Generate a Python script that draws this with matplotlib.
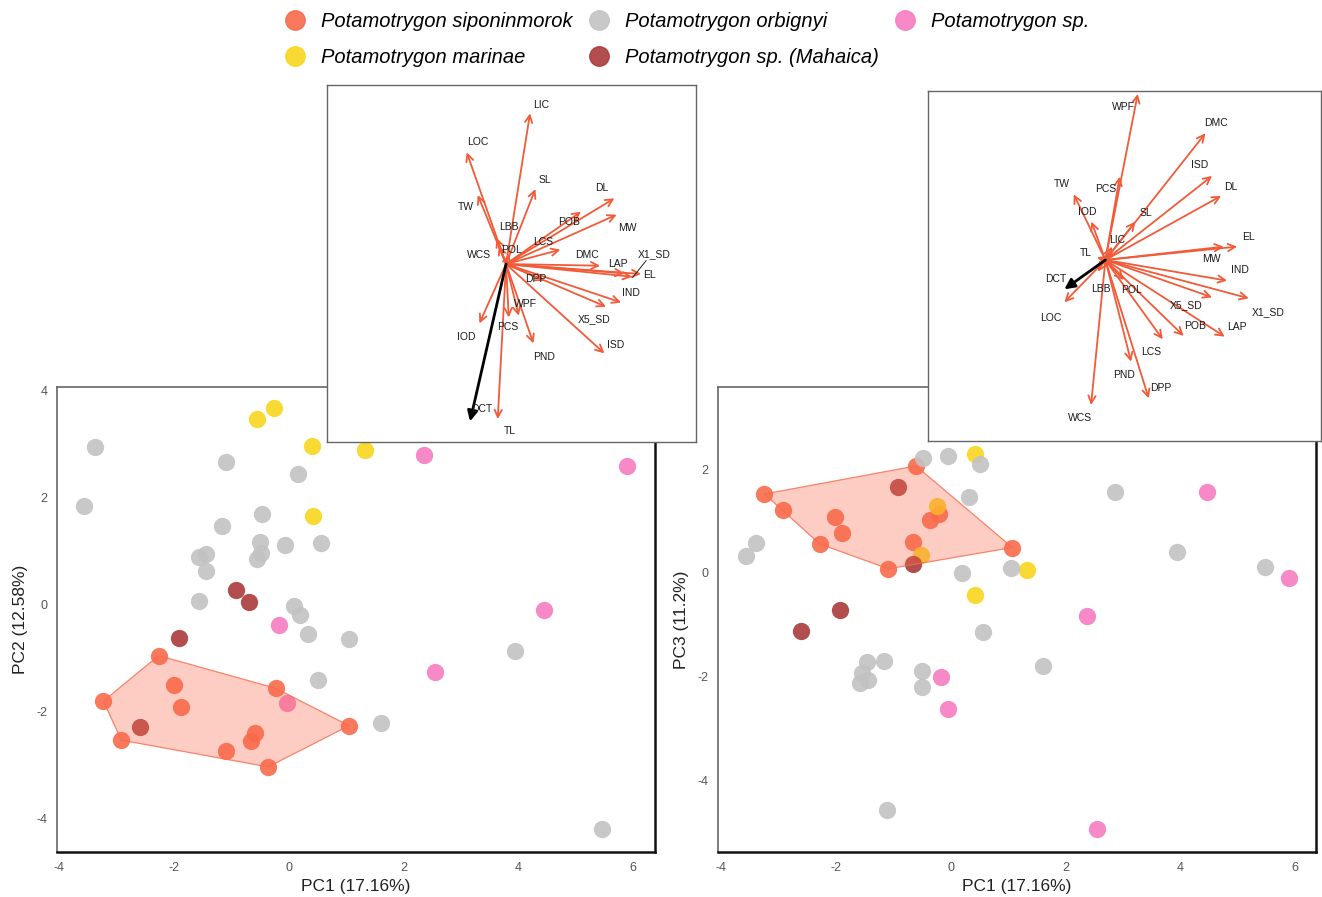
import numpy as np
import matplotlib.pyplot as plt
from matplotlib.lines import Line2D
from matplotlib.patches import Polygon

plt.rcParams['font.family'] = ['Liberation Sans', 'DejaVu Sans']
plt.rcParams['axes.unicode_minus'] = False

# especies y colores
species = ["Potamotrygon siponinmorok", "Potamotrygon marinae",
           "Potamotrygon orbignyi", "Potamotrygon sp. (Mahaica)",
           "Potamotrygon sp."]
colors = ["#F96A4B", "#F9D61E", "#C2C2C2", "#AA3B3B", "#F77CC0"]

# PC1 vs PC2 (panel izquierdo)
pc12_sip_x = [-2.27, -2.00, -0.23, -3.23, -1.88, 1.05, -2.92, -0.59, -0.66, -1.09, -0.36]
pc12_sip_y = [-0.95, -1.50, -1.56, -1.80, -1.91, -2.26, -2.53, -2.39, -2.55, -2.74, -3.03]
pc12_mar_x = [-0.55, -0.26, 0.41, 1.32, 0.42]
pc12_mar_y = [3.48, 3.67, 2.96, 2.90, 1.66]
pc12_orb_x = [-3.38, -3.57, -1.10, 0.16, -0.47, -1.17, -1.56, -1.45, -1.44, -0.50, -0.49, -0.55,
              -0.06, 0.56, -1.56, 0.09, 0.20, 0.33, 1.05, 3.95, 0.51, 1.61, 5.45]
pc12_orb_y = [2.94, 1.85, 2.67, 2.45, 1.70, 1.48, 0.90, 0.94, 0.64, 1.17, 0.97, 0.85,
              1.12, 1.15, 0.07, -0.03, -0.19, -0.54, -0.64, -0.87, -1.40, -2.21, -4.20]
pc12_mah_x = [-0.92, -0.69, -1.92, -2.60]
pc12_mah_y = [0.28, 0.05, -0.62, -2.28]
pc12_sp_x = [2.35, 5.90, -0.17, 4.44, 2.54, -0.04]
pc12_sp_y = [2.80, 2.59, -0.38, -0.10, -1.25, -1.84]

# PC1 vs PC3 (panel derecho)
pc13_sip_x = [-3.25, -2.92, -2.02, -1.90, -2.29, -1.09, -0.61, -0.20, -0.37, -0.66, 1.07]
pc13_sip_y = [1.52, 1.21, 1.07, 0.76, 0.56, 0.08, 2.06, 1.13, 1.02, 0.59, 0.49]
pc13_mar_x = [0.42, -0.25, -0.53, 0.42, 1.32]
pc13_mar_y = [2.29, 1.29, 0.35, -0.42, 0.06]
pc13_orb_x = [-0.48, -0.06, 0.51, 0.31, 0.19, 0.55, -3.40, -3.58, -1.47, -1.17, -0.51,
              1.04, 2.85, 3.94, 5.48, 1.61, -1.55, -1.44, -1.58, -0.51, -1.11]
pc13_orb_y = [2.21, 2.26, 2.09, 1.47, -0.01, -1.13, 0.57, 0.33, -1.72, -1.70, -1.88,
              0.09, 1.56, 0.40, 0.11, -1.79, -1.92, -2.06, -2.11, -2.19, -4.57]
pc13_mah_x = [-0.93, -0.67, -1.93, -2.61]
pc13_mah_y = [1.66, 0.17, -0.71, -1.11]
pc13_sp_x = [4.47, 5.89, 2.37, -0.18, -0.06, 2.54]
pc13_sp_y = [1.56, -0.10, -0.83, -2.01, -2.62, -4.92]

# biplot de cargas PC1/PC2
bi12_vars = ["LIC", "LOC", "SL", "DL", "TW", "POB", "MW", "LBB", "WCS", "POL", "LCS", "DMC", "LAP",
             "X1_SD", "EL", "DPP", "IND", "X5_SD", "WPF", "IOD", "PCS", "PND", "ISD", "TL", "DCT"]
bi12_x = [0.72, -1.18, 0.88, 3.25, -0.85, 2.25, 3.32, -0.28, -0.22, 0.10, 1.63, 2.82, 3.55,
          3.78, 4.05, 1.15, 3.45, 3.00, 0.38, -0.80, 0.08, 0.82, 2.95, -0.25, -1.08]
bi12_y = [4.52, 3.35, 2.25, 1.97, 2.07, 1.57, 1.48, 0.78, 0.55, 0.30, 0.43, -0.05, -0.28,
          -0.38, -0.30, -0.50, -1.15, -1.28, -1.55, -1.78, -1.60, -2.38, -2.68, -4.65, -4.72]
bi12_lx = [1.05, -0.85, 1.17, 2.88, -1.22, 1.88, 3.65, 0.08, -0.82, 0.16, 1.12, 2.43, 3.35,
           4.45, 4.30, 0.88, 3.75, 2.65, 0.58, -1.18, 0.05, 1.15, 3.30, 0.12, -0.72]
bi12_ly = [4.78, 3.67, 2.53, 2.27, 1.70, 1.25, 1.07, 1.12, 0.27, 0.43, 0.66, 0.26, 0.00,
           0.29, -0.32, -0.45, -0.88, -1.65, -1.20, -2.18, -1.90, -2.78, -2.42, -5.02, -4.35]

# biplot de cargas PC1/PC3
bi13_vars = ["WPF", "DMC", "ISD", "DL", "TW", "PCS", "IOD", "SL", "LIC", "EL", "MW", "TL", "IND",
             "DCT", "LBB", "POL", "LOC", "X5_SD", "X1_SD", "POB", "LAP", "LCS", "PND", "DPP", "WCS"]
bi13_x = [0.97, 3.00, 3.20, 3.47, -0.95, 0.43, -0.42, 0.90, 0.20, 3.95, 3.55, -0.25, 3.65,
          -1.23, -0.23, 0.55, -1.23, 3.20, 4.30, 2.35, 3.58, 1.72, 0.77, 1.30, -0.43]
bi13_y = [4.98, 3.80, 2.52, 1.92, 1.97, 2.50, 1.15, 1.15, 0.40, 0.40, 0.40, 0.08, -0.62,
          -0.88, -0.35, -0.60, -1.27, -1.12, -1.15, -2.28, -2.30, -2.38, -3.05, -4.15, -4.35]
bi13_lx = [0.55, 3.33, 2.83, 3.75, -1.32, 0.02, -0.53, 1.22, 0.35, 4.28, 3.17, -0.60, 4.05,
           -1.50, -0.15, 0.79, -1.63, 2.43, 4.87, 2.68, 3.95, 1.37, 0.55, 1.65, -0.75]
bi13_ly = [4.60, 4.10, 2.85, 2.18, 2.27, 2.13, 1.45, 1.42, 0.60, 0.70, 0.02, 0.20, -0.30,
           -0.57, -0.88, -0.90, -1.73, -1.35, -1.55, -1.98, -2.00, -2.77, -3.45, -3.85, -4.75]


def convex_hull(xs, ys):
    pts = sorted(set(zip(xs, ys)))

    def cross(o, a, b):
        return (a[0] - o[0]) * (b[1] - o[1]) - (a[1] - o[1]) * (b[0] - o[0])

    lower, upper = [], []
    for p in pts:
        while len(lower) >= 2 and cross(lower[-2], lower[-1], p) <= 0:
            lower.pop()
        lower.append(p)
    for p in reversed(pts):
        while len(upper) >= 2 and cross(upper[-2], upper[-1], p) <= 0:
            upper.pop()
        upper.append(p)
    return lower[:-1] + upper[:-1]


def score_panel(ax, groups, ylabel, xlim, ylim, yticks):
    for (gx, gy), c in zip(groups, colors):
        ax.scatter(gx, gy, s=155, color=c, alpha=0.9, linewidths=0, zorder=3)
    hull = convex_hull(*groups[0])
    ax.add_patch(Polygon(hull, closed=True, facecolor=colors[0], alpha=0.33,
                         edgecolor='none', zorder=4))
    ax.add_patch(Polygon(hull, closed=True, facecolor='none', edgecolor=colors[0],
                         lw=0.9, alpha=0.8, zorder=4))
    ax.set_xlim(*xlim)
    ax.set_ylim(*ylim)
    ax.set_xticks([-4, -2, 0, 2, 4, 6])
    ax.set_yticks(yticks)
    ax.tick_params(length=0, labelsize=9, labelcolor='#555555', pad=7)
    ax.set_xlabel("PC1 (17.16%)", fontsize=12.5, color='#222222', labelpad=4)
    ax.set_ylabel(ylabel, fontsize=12.5, color='#222222', labelpad=6)
    for s in ['left', 'top']:
        ax.spines[s].set_color('#666666')
        ax.spines[s].set_linewidth(1.2)
    for s in ['right', 'bottom']:
        ax.spines[s].set_color('#111111')
        ax.spines[s].set_linewidth(1.8)


def biplot(ax, names, tx, ty, lx, ly, xlim, ylim):
    for n, x, y, a, b in zip(names, tx, ty, lx, ly):
        if n == 'DCT':
            ax.annotate('', xy=(x, y), xytext=(0, 0),
                        arrowprops=dict(arrowstyle='-|>', color='black', lw=2,
                                        mutation_scale=15, shrinkA=0, shrinkB=0), zorder=5)
        else:
            ax.annotate('', xy=(x, y), xytext=(0, 0),
                        arrowprops=dict(arrowstyle='->', color='#F25A38', lw=1.3,
                                        mutation_scale=13, shrinkA=0, shrinkB=0), zorder=4)
        ax.text(a, b, n, fontsize=7.5, color='#1a1a1a', ha='center', va='center', zorder=6)
    ax.set_xlim(*xlim)
    ax.set_ylim(*ylim)
    ax.set_xticks([])
    ax.set_yticks([])
    ax.set_facecolor('white')
    for s in ax.spines.values():
        s.set_color('#666666')
        s.set_linewidth(1.0)


fig = plt.figure(figsize=(13.22, 8.97), dpi=100)

ax1 = fig.add_axes([0.0431, 0.0502, 0.4523, 0.5184])
score_panel(ax1, [(pc12_sip_x, pc12_sip_y), (pc12_mar_x, pc12_mar_y), (pc12_orb_x, pc12_orb_y),
                  (pc12_mah_x, pc12_mah_y), (pc12_sp_x, pc12_sp_y)],
            "PC2 (12.58%)", (-4.04, 6.38), (-4.62, 4.07), [-4, -2, 0, 2, 4])

ax2 = fig.add_axes([0.5431, 0.0502, 0.4523, 0.5184])
score_panel(ax2, [(pc13_sip_x, pc13_sip_y), (pc13_mar_x, pc13_mar_y), (pc13_orb_x, pc13_orb_y),
                  (pc13_mah_x, pc13_mah_y), (pc13_sp_x, pc13_sp_y)],
            "PC3 (11.2%)", (-4.06, 6.36), (-5.37, 3.58), [-4, -2, 0, 2])

in1 = fig.add_axes([0.2474, 0.5072, 0.2791, 0.398])
biplot(in1, bi12_vars, bi12_x, bi12_y, bi12_lx, bi12_ly, (-5.37, 5.70), (-5.34, 5.37))
# linea guia de X1_SD
in1.plot([4.20, 3.80], [0.10, -0.40], color='#222222', lw=0.7, zorder=6)

in2 = fig.add_axes([0.702, 0.5084, 0.2973, 0.3902])
biplot(in2, bi13_vars, bi13_x, bi13_y, bi13_lx, bi13_ly, (-5.32, 6.47), (-5.43, 5.07))

handles = [Line2D([], [], marker='o', ls='', color=c, alpha=0.9, markersize=14) for c in colors]
fig.legend(handles, species, ncol=3, loc='upper center', bbox_to_anchor=(0.520, 1.007),
           frameon=False, prop=dict(style='italic', size=14.5), handlelength=1.0,
           handletextpad=0.8, columnspacing=0.8, labelspacing=0.85)

fig.savefig('out.png', dpi=100)
